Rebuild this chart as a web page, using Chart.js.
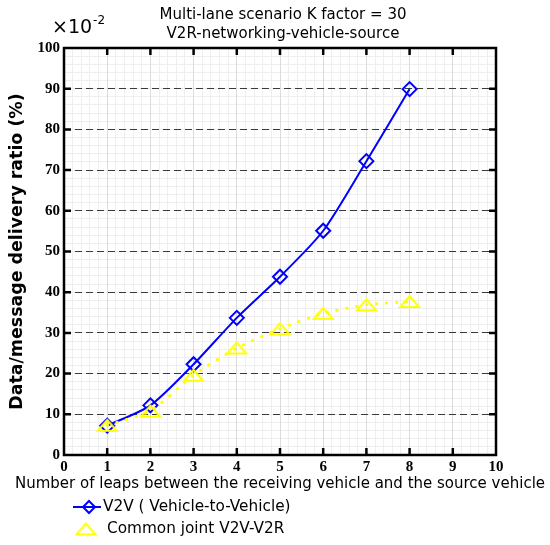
<!DOCTYPE html>
<html>
<head>
<meta charset="utf-8">
<script src="https://cdn.jsdelivr.net/npm/chart.js@4/dist/chart.umd.min.js"></script>
<style>
  html, body { margin: 0; padding: 0; background: #fff; }
  canvas { display: block; }
</style>
</head>
<body>
<canvas id="leapChart" width="550" height="545"></canvas>
<script>
    // hops between receiving and source vehicle
    const hops = [1, 2, 3, 4, 5, 6, 7, 8];
    // delivery ratio (x10^-2)
    const v2v = [7.2, 12.2, 22.3, 33.7, 43.8, 55.1, 72.2, 89.9];
    const joint = [7.3, 10.8, 19.6, 26.3, 31.0, 34.8, 36.9, 37.7];
    const seriesNames = ['V2V ( Vehicle-to-Vehicle)', 'Common joint V2V-V2R'];
    const titleLines = ['Multi-lane scenario K factor = 30', 'V2R-networking-vehicle-source'];
    const xTitle = 'Number of leaps between the receiving vehicle and the source vehicle';
    const yTitle = 'Data/message delivery ratio (%)';

    const BLUE = '#0000ff';
    const YELLOW = '#ffff00';
    const SANS = "'DejaVu Sans', Verdana, sans-serif";
    const SERIF = "'Liberation Serif', 'Times New Roman', serif";

    // flat open triangle like the matlab marker
    function triMarker(w, h) {
        const c = document.createElement('canvas');
        c.width = w + 4; c.height = h + 4;
        const g = c.getContext('2d');
        g.strokeStyle = YELLOW;
        g.lineWidth = 2;
        g.beginPath();
        g.moveTo(2, h + 2);
        g.lineTo(w / 2 + 2, 2);
        g.lineTo(w + 2, h + 2);
        g.closePath();
        g.stroke();
        return c;
    }
    const tri = triMarker(19, 11);

    const toPoints = ys => hops.map((h, i) => ({x: h, y: ys[i]}));

    // frame, inward ticks, titles, exponent and legend
    const decor = {
        id: 'decor',
        afterDraw(chart) {
            const {ctx, chartArea: a, scales} = chart;
            const xs = scales.x, ys = scales.y;
            ctx.save();
            ctx.strokeStyle = '#000';
            ctx.lineWidth = 2.5;
            ctx.beginPath();
            for (let v = 1; v < 10; v++) {
                const px = xs.getPixelForValue(v);
                ctx.moveTo(px, a.bottom); ctx.lineTo(px, a.bottom - 7);
                ctx.moveTo(px, a.top); ctx.lineTo(px, a.top + 7);
            }
            for (let v = 10; v < 100; v += 10) {
                const py = ys.getPixelForValue(v);
                ctx.moveTo(a.left, py); ctx.lineTo(a.left + 7, py);
                ctx.moveTo(a.right, py); ctx.lineTo(a.right - 7, py);
            }
            ctx.stroke();
            ctx.strokeRect(a.left, a.top, a.right - a.left, a.bottom - a.top);

            ctx.fillStyle = '#000';
            ctx.textAlign = 'center';
            ctx.textBaseline = 'middle';
            ctx.font = '15px ' + SANS;
            ctx.fillText(titleLines[0], 283, 15);
            ctx.fillText(titleLines[1], 283, 34.5);

            // x axis title, wider than the axes
            ctx.font = '15px ' + SANS;
            ctx.fillText(xTitle, 280, 484);

            ctx.textAlign = 'left';
            ctx.textBaseline = 'alphabetic';
            ctx.font = '19px ' + SANS;
            ctx.fillText('\u00d710', 52, 33);
            const w10 = ctx.measureText('\u00d710').width;
            ctx.font = '12px ' + SANS;
            ctx.fillText('-2', 52 + w10 + 1, 24);

            // legend
            ctx.font = '15.3px ' + SANS;
            ctx.textBaseline = 'middle';
            let y = 507;
            ctx.strokeStyle = BLUE;
            ctx.lineWidth = 2;
            ctx.beginPath(); ctx.moveTo(73, y); ctx.lineTo(101, y); ctx.stroke();
            ctx.beginPath();
            ctx.moveTo(89, y - 6); ctx.lineTo(95, y); ctx.lineTo(89, y + 6); ctx.lineTo(83, y);
            ctx.closePath(); ctx.stroke();
            ctx.fillText(seriesNames[0], 103, y);
            y = 529;
            ctx.drawImage(tri, 86 - tri.width / 2, y - tri.height / 2);
            ctx.fillText(seriesNames[1], 107, y);
            ctx.restore();
        }
    };

    const config = {
        type: 'line',
        data: {
            datasets: [{
                label: seriesNames[0],
                data: toPoints(v2v),
                borderColor: BLUE,
                borderWidth: 2,
                tension: 0.25,
                pointStyle: 'rectRot',
                pointRadius: 7,
                pointBorderWidth: 2,
                pointBorderColor: BLUE,
                pointBackgroundColor: 'rgba(255,255,255,0)',
                order: 1
            }, {
                label: seriesNames[1],
                data: toPoints(joint),
                borderColor: YELLOW,
                borderWidth: 3,
                borderDash: [0.5, 9.5],
                borderCapStyle: 'round',
                tension: 0.2,
                pointStyle: tri,
                pointRadius: 8,
                order: 0
            }]
        },
        options: {
            responsive: false,
            animation: false,
            layout: { padding: { top: 48, right: 54, left: 0, bottom: 50 } },
            plugins: {
                legend: { display: false },
                title: { display: false },
                tooltip: { enabled: false }
            },
            scales: {
                xMinor: {
                    type: 'linear', position: 'bottom', min: 0, max: 10,
                    ticks: { display: false, stepSize: 0.2 },
                    grid: { color: '#efefef', drawTicks: false, z: -2 },
                    border: { display: false },
                    afterFit: s => { s.height = 0; }
                },
                yMinor: {
                    type: 'linear', position: 'left', min: 0, max: 100,
                    ticks: { display: false, stepSize: 2 },
                    grid: { color: '#efefef', drawTicks: false, z: -2 },
                    border: { display: false },
                    afterFit: s => { s.width = 0; }
                },
                x: {
                    type: 'linear', position: 'bottom', min: 0, max: 10,
                    ticks: { stepSize: 1, color: '#000', padding: 3,
                             font: { family: SERIF, size: 15, weight: 'bold' } },
                    grid: { color: '#dcdcdc', drawTicks: false },
                    border: { display: false },
                    afterFit: s => { s.height = 40; }
                },
                y: {
                    type: 'linear', position: 'left', min: 0, max: 100,
                    ticks: { stepSize: 10, color: '#000', padding: 4,
                             font: { family: SERIF, size: 15, weight: 'bold' } },
                    grid: { color: '#3a3a3a', lineWidth: 1, drawTicks: false },
                    border: { display: false, dash: [7, 4] },
                    title: { display: true, text: yTitle, color: '#000',
                             padding: { top: 7, bottom: 0 },
                             font: { family: SANS, size: 17.4, weight: 'bold' } },
                    afterFit: s => { s.width = 64; }
                }
            }
        },
        plugins: [decor]
    };

    new Chart(document.getElementById('leapChart'), config);
</script>
</body>
</html>
